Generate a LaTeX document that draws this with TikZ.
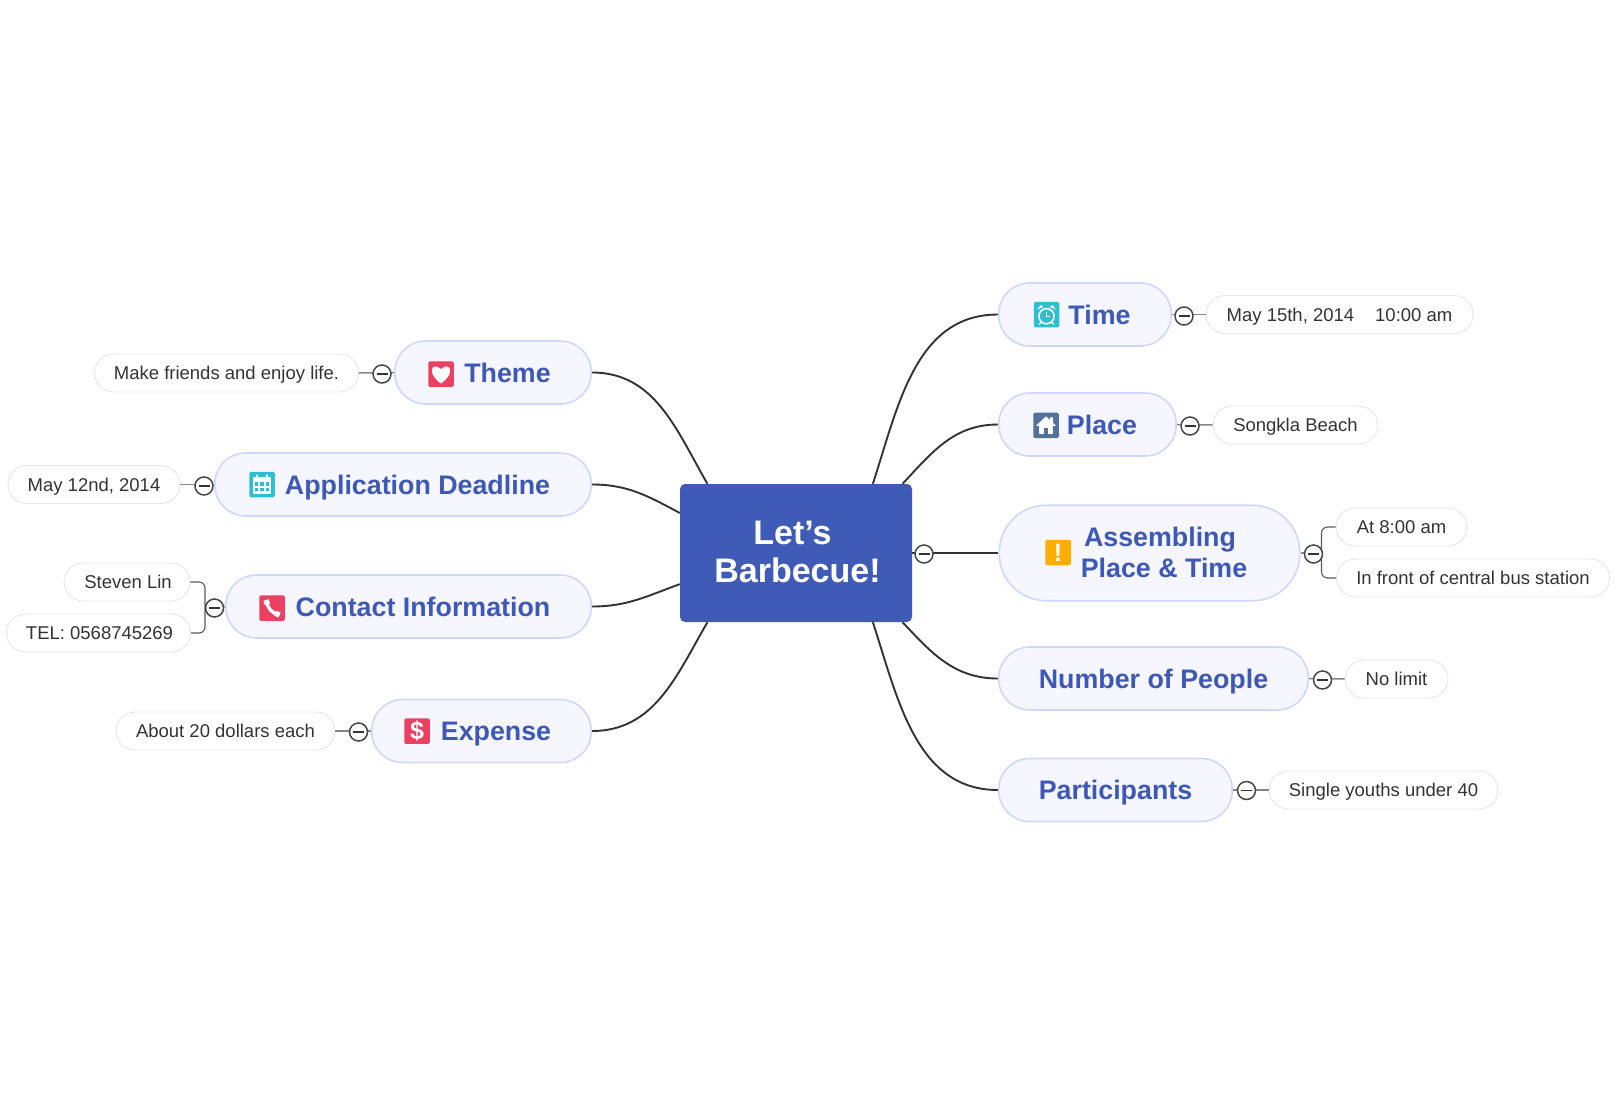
\documentclass[tikz,border=0pt]{standalone}
\usepackage{fontspec}
\setmainfont{Liberation Sans}
\usepackage{tikz}

\definecolor{centralblue}{HTML}{3F5BB7}
\definecolor{topicfill}{HTML}{F5F6FF}
\definecolor{topicline}{HTML}{CFD8FB}
\definecolor{topictext}{HTML}{3D58B5}
\definecolor{notegray}{HTML}{E6E6E6}
\definecolor{inktext}{HTML}{333333}
\definecolor{teal}{HTML}{2BBFD0}
\definecolor{slate}{HTML}{537199}
\definecolor{amber}{HTML}{FFAE00}
\definecolor{rose}{HTML}{EC4061}

\newcommand{\topicname}[1]{\hspace*{34pt}#1\hspace*{5pt}}

\tikzset{
  centralbox/.style={rectangle,rounded corners=5pt,fill=centralblue,text=white,minimum width=232pt,minimum height=138pt,align=center,font=\bfseries\fontsize{34}{38}\selectfont},
  topicbox/.style={rectangle,rounded corners=31pt,draw=topicline,line width=1.6pt,fill=topicfill,text=topictext,minimum height=63pt,inner sep=0pt,text height=23pt,text depth=3.6pt,font=\bfseries\fontsize{26.8}{31}\selectfont},
  tallbox/.style={topicbox,rounded corners=47pt,minimum height=95.5pt,text height=,text depth=,align=center},
  notebox/.style={rectangle,rounded corners=19pt,draw=notegray,line width=0.9pt,fill=white,text=inktext,minimum height=38pt,inner sep=0pt,text height=14.6pt,text depth=1.6pt,font=\fontsize{18.5}{22}\selectfont},
  iconbox/.style={rectangle,rounded corners=1.5pt,minimum size=25.5pt,inner sep=0pt,text=white,font=\bfseries\fontsize{25}{25}\selectfont},
  dotbox/.style={circle,draw=inktext!90,line width=1.5pt,fill=white,minimum size=18pt,inner sep=0pt,text=inktext},
  branch/.style={draw=inktext,line width=1.9pt},
  leaf/.style={draw=black!48,line width=1.5pt},
  fork/.style={draw=black!65,line width=1.1pt,rounded corners=6pt},
  pics/clockglyph/.style={code={
    \draw[white,line width=1.6pt] (0,1.5) circle (7.6);
    \draw[white,line width=1.1pt] (0,-3) -- (0,1.5) -- (3.5,1.5);
    \fill[white] (-9.5,-5) -- (-6,-9.5) -- (-3,-8) -- cycle;
    \fill[white] (9.5,-5) -- (6,-9.5) -- (3,-8) -- cycle;
    \draw[white,line width=1.3pt] (-5,7) -- (-7.5,10) (5,7) -- (7.5,10);
  }},
  pics/houseglyph/.style={code={
    \fill[white] (-10,0.5) -- (0,-9) -- (4,-5.2) -- (4,-8) -- (7,-8) -- (7,-2.4) -- (10,0.5) -- cycle;
    \fill[white] (-7,0.5) rectangle (7,9);
    \fill[slate] (-2.2,3) rectangle (2.2,9);
  }},
  pics/heartglyph/.style={code={
    \fill[white] (0,9.5) .. controls (-15,-1) and (-9,-13) .. (0,-5) .. controls (9,-13) and (15,-1) .. (0,9.5);
  }},
  pics/calendarglyph/.style={code={
    \fill[white] (-9,-8) rectangle (9,9);
    \fill[white] (-6,-10) rectangle (-4,-7) (4,-10) rectangle (6,-7);
    \foreach \col in {-5.4,0,5.4} {
      \foreach \row in {-0.5,5} {
        \fill[teal] (\col-1.7,\row-1.7) rectangle (\col+1.7,\row+1.7);
      }
    }
  }},
  pics/phoneglyph/.style={code={
    \draw[white,line width=3.4pt] (-5,-6) .. controls (-4.5,0) and (0,5.5) .. (6,6);
    \draw[white,line width=5.4pt] (-6,-8) -- (-4.6,-3.8) (3.2,5.2) -- (7.6,7);
  }}
}

\begin{document}
\begin{tikzpicture}[x=1pt,y=-1pt]
    \useasboundingbox (0,0) rectangle (1614,1106);

    \node[centralbox]                    (central)  at (796,553)     {\hspace*{3pt}Let’s\hspace*{10pt}\\\hspace*{3pt}Barbecue!\rule[-1.5pt]{0pt}{1.5pt}};

    \node[topicbox,minimum width=172.5pt] (time)     at (1085,314.5)  {\topicname{Time}};
    \node[topicbox,minimum width=177.5pt] (place)    at (1087.5,424.5) {\topicname{Place}};
    \node[tallbox,minimum width=300.5pt]  (assembly) at (1149.5,553)  {\hspace*{29pt}Assembling\hspace*{8pt}\\\hspace*{29pt}Place \& Time\rule[-2pt]{0pt}{2pt}};
    \node[topicbox,minimum width=309.5pt] (people)   at (1153.5,678.5) {Number of People};
    \node[topicbox,minimum width=233.5pt] (crowd)    at (1115.5,790)  {Participants};
    \node[topicbox,minimum width=196.5pt] (theme)    at (493,372.5)   {\topicname{Theme}};
    \node[topicbox,minimum width=376.5pt] (deadline) at (403,484.5)   {\topicname{Application Deadline}};
    \node[topicbox,minimum width=365.5pt] (contact)  at (408.5,606.5) {\topicname{Contact Information}};
    \node[topicbox,minimum width=219.5pt] (expense)  at (481.5,731)   {\topicname{Expense}};

    \node[notebox,minimum width=267pt]   (timenote)   at (1339.5,314.5) {May 15th, 2014\hspace{21pt}10:00 am};
    \node[notebox,minimum width=165pt]   (placenote)  at (1295.5,425)   {Songkla Beach};
    \node[notebox,minimum width=131pt]   (hournote)   at (1401.5,527)   {At 8:00 am};
    \node[notebox,minimum width=273pt]   (stopnote)   at (1473,578)     {In front of central bus station};
    \node[notebox,minimum width=103pt]   (limitnote)  at (1396.5,679)   {No limit};
    \node[notebox,minimum width=229pt]   (youthnote)  at (1383.5,790)   {Single youths under 40};
    \node[notebox,minimum width=264pt]   (themenote)  at (226.5,373)    {Make friends and enjoy life.};
    \node[notebox,minimum width=172pt]   (datenote)   at (94,484.5)     {May 12nd, 2014};
    \node[notebox,minimum width=126pt]   (namenote)   at (127,582)      {\hspace*{2pt}Steven Lin};
    \node[notebox,minimum width=184pt]   (telnote)    at (98.5,633)     {\hspace*{2pt}TEL: 0568745269};
    \node[notebox,minimum width=219pt]   (costnote)   at (225.5,731)    {About 20 dollars each};

    \coordinate (assemblyfork) at (1321.5,553);
    \coordinate (contactfork)  at (205,607);

    \draw (central.42)   edge[branch,out=72,in=180]   (time.west);
    \draw (central.33)   edge[branch,out=47,in=180]   (place.west);
    \draw (central.east) edge[branch]                 (assembly.west);
    \draw (central.-33)  edge[branch,out=-47,in=180]  (people.west);
    \draw (central.-42)  edge[branch,out=-72,in=180]  (crowd.west);
    \draw (central.142)  edge[branch,out=120,in=0]    (theme.east);
    \draw (central.161)  edge[branch,out=152,in=0]    (deadline.east);
    \draw (central.195)  edge[branch,out=200,in=0]    (contact.east);
    \draw (central.218)  edge[branch,out=240,in=0]    (expense.east);

    \draw (time.east)     edge[leaf] (timenote.west);
    \draw (place.east)    edge[leaf] (placenote.west);
    \draw (people.east)   edge[leaf] (limitnote.west);
    \draw (crowd.east)    edge[leaf] (youthnote.west);
    \draw (theme.west)    edge[leaf] (themenote.east);
    \draw (deadline.west) edge[leaf] (datenote.east);
    \draw (expense.west)  edge[leaf] (costnote.east);
    \draw[fork] (hournote.west) -| (assemblyfork) |- (stopnote.west);
    \draw[fork] (namenote.east) -| (contactfork) |- (telnote.east);
    \draw (assembly.east) edge[leaf] (assemblyfork);
    \draw (contact.west)  edge[leaf] (contactfork);

    \node[dotbox] (centraldot)  at (924,554)    {\rule{11pt}{1.5pt}};
    \node[dotbox] (timedot)     at (1184,316)   {\rule{11pt}{1.5pt}};
    \node[dotbox] (placedot)    at (1190,426)   {\rule{11pt}{1.5pt}};
    \node[dotbox] (assemblydot) at (1313.5,554) {\rule{11pt}{1.5pt}};
    \node[dotbox] (peopledot)   at (1322.5,680) {\rule{11pt}{1.5pt}};
    \node[dotbox] (crowddot)    at (1246.5,790.5) {\rule{11pt}{1.5pt}};
    \node[dotbox] (themedot)    at (382,374)    {\rule{11pt}{1.5pt}};
    \node[dotbox] (deadlinedot) at (204,486)    {\rule{11pt}{1.5pt}};
    \node[dotbox] (contactdot)  at (214.5,608)  {\rule{11pt}{1.5pt}};
    \node[dotbox] (expensedot)  at (358.5,732)  {\rule{11pt}{1.5pt}};

    \node[iconbox,fill=teal]  (timeicon)     at (1046.5,314.7) {};
    \node[iconbox,fill=slate] (placeicon)    at (1046,425.3)   {};
    \node[iconbox,fill=amber] (assemblyicon) at (1058,552.5)   {!};
    \node[iconbox,fill=rose]  (themeicon)    at (441,374)      {};
    \node[iconbox,fill=teal]  (deadlineicon) at (262,484.5)    {};
    \node[iconbox,fill=rose]  (contacticon)  at (272,608)      {};
    \node[iconbox,fill=rose]  (expenseicon)  at (417,731)      {\$};

    \pic at (timeicon)     {clockglyph};
    \pic at (placeicon)    {houseglyph};
    \pic at (themeicon)    {heartglyph};
    \pic at (deadlineicon) {calendarglyph};
    \pic at (contacticon)  {phoneglyph};
\end{tikzpicture}
\end{document}
